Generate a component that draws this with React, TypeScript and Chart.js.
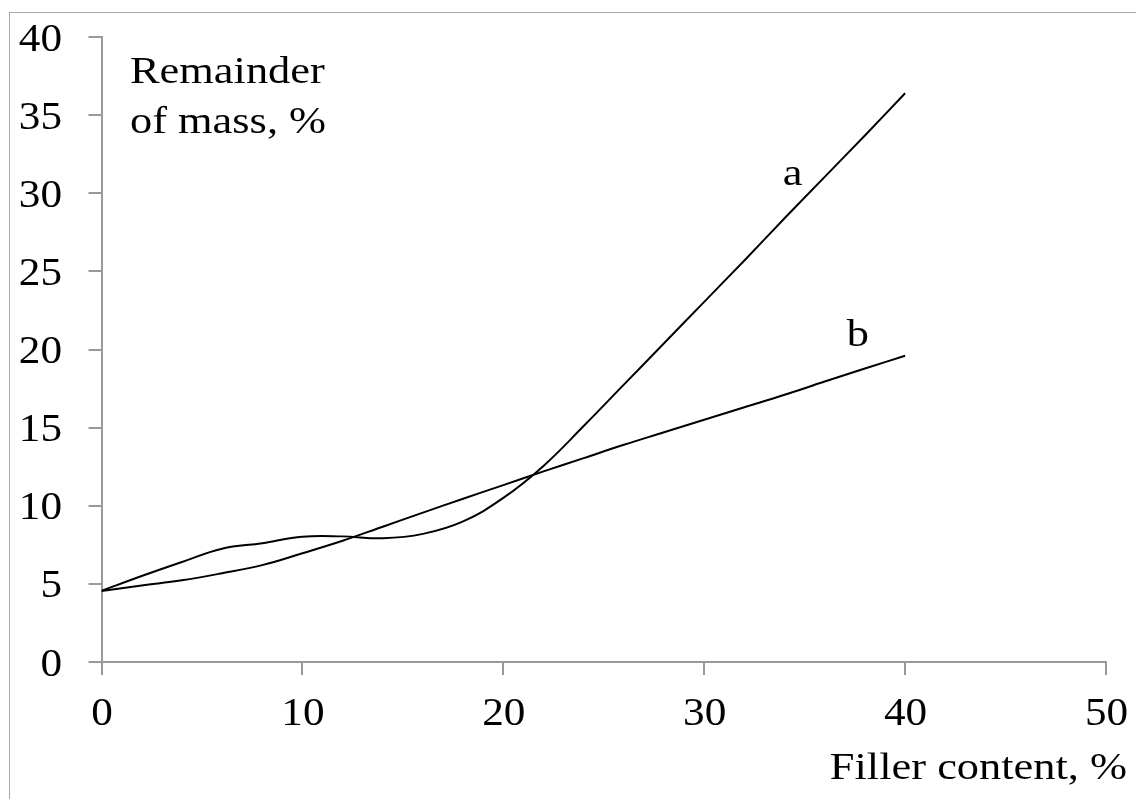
import React, { useEffect, useRef } from "react";
import { Chart, registerables } from "chart.js";

Chart.register(...registerables);

// ---- data ----
const xValues = [0, 2, 4, 6, 8, 10, 12, 14, 16, 18, 20, 22, 24, 26, 28, 30, 32, 34, 36, 38, 40];
const seriesA = [4.55, 5.5, 6.4, 7.25, 7.6, 8.02, 8.04, 7.92, 8.2, 9.0, 10.5, 12.55, 15.1, 17.75, 20.4, 23.05, 25.7, 28.4, 31.05, 33.7, 36.4];
const seriesB = [4.55, 4.9, 5.23, 5.68, 6.2, 6.96, 7.76, 8.66, 9.56, 10.45, 11.32, 12.2, 13.05, 13.9, 14.7, 15.5, 16.3, 17.1, 17.95, 18.78, 19.6];
const seriesNames = ["a", "b"];
const xTickValues = [0, 10, 20, 30, 40, 50];
const yTickValues = [0, 5, 10, 15, 20, 25, 30, 35, 40];
const xTitle = "Filler content, %";
const yTitleLines = ["Remainder", "of mass, %"];

const FONT = "'Liberation Serif', 'Times New Roman', serif";
const AXIS = "#9a9a9a";

function drawText(
  ctx: CanvasRenderingContext2D,
  text: string,
  x: number,
  y: number,
  align: CanvasTextAlign,
  size: number,
  stretch: number
) {
  ctx.save();
  ctx.font = `${size}px ${FONT}`;
  ctx.translate(x, y);
  ctx.scale(stretch, 1);
  ctx.textAlign = align;
  ctx.textBaseline = "alphabetic";
  ctx.fillText(text, 0, 0);
  ctx.restore();
}

const textPlugin = {
  id: "annotText",
  afterDraw(chart: any) {
    const { ctx, chartArea, scales } = chart;
    const x = scales.x;
    const y = scales.y;
    ctx.save();
    ctx.fillStyle = "#000";
    // tick labels
    x.ticks.forEach((t: any) => {
      drawText(ctx, String(t.value), x.getPixelForValue(t.value) + 0.5, chartArea.bottom + 63, "center", 40, 1.08);
    });
    y.ticks.forEach((t: any) => {
      drawText(ctx, String(t.value), chartArea.left - 39.5, y.getPixelForValue(t.value) + 13.5, "right", 40, 1.08);
    });
    // series labels anchored to data coordinates
    drawText(ctx, seriesNames[0], x.getPixelForValue(34.4), y.getPixelForValue(30.5), "center", 37, 1.2);
    drawText(ctx, seriesNames[1], x.getPixelForValue(37.65), y.getPixelForValue(20.2), "center", 37, 1.2);
    // y title inside the plot area
    drawText(ctx, yTitleLines[0], chartArea.left + 28.5, chartArea.top + 46, "left", 37, 1.2);
    drawText(ctx, yTitleLines[1], chartArea.left + 28.5, chartArea.top + 96, "left", 37, 1.2);
    // x title bottom right
    drawText(ctx, xTitle, chart.width - 9, chartArea.bottom + 117, "right", 37, 1.2);
    ctx.restore();
  },
};

export default function App() {
  const ref = useRef<HTMLCanvasElement | null>(null);

  useEffect(() => {
    document.body.style.margin = "0";
    if (!ref.current) return;
    const chart = new Chart(ref.current, {
      type: "line",
      data: {
        datasets: [
          {
            label: seriesNames[0],
            data: xValues.map((v, i) => ({ x: v, y: seriesA[i] })),
            borderColor: "#000",
            borderWidth: 2,
            pointRadius: 0,
            tension: 0.4,
            fill: false,
          },
          {
            label: seriesNames[1],
            data: xValues.map((v, i) => ({ x: v, y: seriesB[i] })),
            borderColor: "#000",
            borderWidth: 2,
            pointRadius: 0,
            tension: 0.4,
            fill: false,
          },
        ],
      },
      options: {
        animation: false,
        responsive: false,
        maintainAspectRatio: false,
        devicePixelRatio: 1,
        layout: { padding: { left: 0, right: 30, top: 37, bottom: 0 } },
        plugins: { legend: { display: false }, tooltip: { enabled: false }, title: { display: false } },
        scales: {
          x: {
            type: "linear",
            min: 0,
            max: 50,
            afterBuildTicks: (s: any) => {
              s.ticks = xTickValues.map((v) => ({ value: v }));
            },
            afterFit: (s: any) => {
              s.height = 137;
            },
            ticks: { display: false },
            grid: { drawOnChartArea: false, drawTicks: true, tickLength: 13, color: AXIS, lineWidth: 2 },
            border: { display: true, color: AXIS, width: 2 },
          },
          y: {
            type: "linear",
            min: 0,
            max: 40,
            afterBuildTicks: (s: any) => {
              s.ticks = yTickValues.map((v) => ({ value: v }));
            },
            afterFit: (s: any) => {
              s.width = 101.5;
            },
            ticks: { display: false },
            grid: { drawOnChartArea: false, drawTicks: true, tickLength: 13, color: AXIS, lineWidth: 2 },
            border: { display: true, color: AXIS, width: 2 },
          },
        },
      },
      plugins: [textPlugin],
    } as any);
    return () => chart.destroy();
  }, []);

  return (
    <div style={{ position: "relative", width: 1136, height: 799, overflow: "hidden", background: "#fff" }}>
      <canvas ref={ref} width={1136} height={799} style={{ position: "absolute", left: 0, top: 0 }} />
      <div
        style={{
          position: "absolute",
          left: 9,
          top: 12,
          width: 1300,
          height: 1000,
          borderLeft: "1.5px solid #a8a8a8",
          borderTop: "1.5px solid #a8a8a8",
          pointerEvents: "none",
        }}
      />
    </div>
  );
}
